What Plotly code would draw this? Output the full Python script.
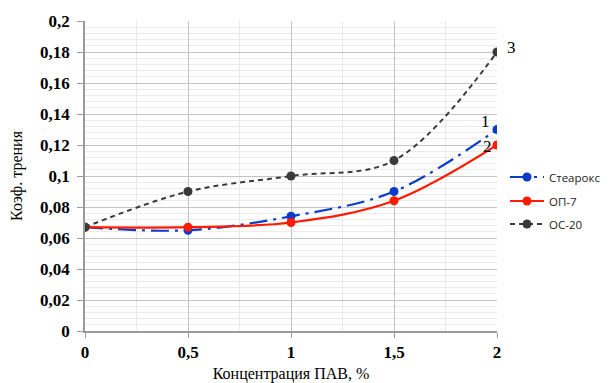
import plotly.graph_objects as go

conc = [0, 0.5, 1, 1.5, 2]
stearox = [0.067, 0.065, 0.074, 0.09, 0.13]
op7 = [0.067, 0.067, 0.07, 0.084, 0.12]
oc20 = [0.067, 0.09, 0.1, 0.11, 0.18]
names = ["Стеарокс", "ОП-7", "ОС-20"]
x_ticks = [0, 0.5, 1, 1.5, 2]
x_ticklabels = ["0", "0,5", "1", "1,5", "2"]
y_ticks = [0, 0.02, 0.04, 0.06, 0.08, 0.1, 0.12, 0.14, 0.16, 0.18, 0.2]
y_ticklabels = ["0", "0,02", "0,04", "0,06", "0,08", "0,1", "0,12", "0,14", "0,16", "0,18", "0,2"]
curve_labels = ["1", "2", "3"]

serif = "Liberation Serif, Times New Roman, serif"
legfont = dict(family="Open Sans", size=11.5, color="#222")

W, H = 604, 375  # page body has an 8px margin

fig = go.Figure()
fig.add_trace(go.Scatter(x=conc, y=stearox, name=names[0], mode="lines+markers", legend="legend",
                         line=dict(color="#0a3cc8", width=2.2, dash="18px,6px,3px,6px", shape="spline", smoothing=1),
                         marker=dict(color="#0a3cc8", size=9)))
fig.add_trace(go.Scatter(x=conc, y=op7, name=names[1], mode="lines+markers", legend="legend2",
                         line=dict(color="#ff1a00", width=2.2, shape="spline", smoothing=1),
                         marker=dict(color="#ff1a00", size=9)))
fig.add_trace(go.Scatter(x=conc, y=oc20, name=names[2], mode="lines+markers", legend="legend3",
                         line=dict(color="#3a3a3a", width=2, dash="5px,4px", shape="spline", smoothing=1),
                         marker=dict(color="#3a3a3a", size=9)))

fig.add_annotation(x=conc[-1], y=stearox[-1], text=curve_labels[0], showarrow=False,
                   xanchor="right", yanchor="bottom", xshift=-5, yshift=-3,
                   font=dict(family=serif, size=17, color="black"))
fig.add_annotation(x=conc[-1], y=op7[-1], text=curve_labels[1], showarrow=False,
                   xanchor="right", yanchor="middle", xshift=-3, yshift=-1,
                   font=dict(family=serif, size=17, color="black"))
fig.add_annotation(x=conc[-1], y=oc20[-1], text=curve_labels[2], showarrow=False,
                   xanchor="left", yanchor="middle", xshift=8, yshift=5,
                   font=dict(family=serif, size=17, color="black"))

def leg(ypix):
    return dict(xref="container", yref="container", x=497 / W, xanchor="left",
                y=1 - ypix / H, yanchor="middle", font=legfont, bgcolor="rgba(0,0,0,0)",
                itemwidth=34)

fig.update_layout(
    width=W, height=H,
    margin=dict(l=77, r=115, t=13, b=H - 323, autoexpand=False),
    paper_bgcolor="white", plot_bgcolor="white",
    separators=", ",
    showlegend=True,
    legend=leg(169), legend2=leg(193), legend3=leg(216),
)

fig.update_xaxes(range=[0, 2], tickvals=x_ticks, ticktext=x_ticklabels,
                 showgrid=True, gridcolor="#c4c4c4", gridwidth=1,
                 showline=True, linecolor="#9a9a9a", linewidth=1.5,
                 ticks="outside", ticklen=5, tickcolor="#9a9a9a",
                 tickfont=dict(family=serif, size=17, color="black", weight="bold"),
                 zeroline=False, automargin=False,
                 minor=dict(dtick=0.25, showgrid=True, gridcolor="#e8e8e8", gridwidth=1),
                 title=dict(text="Концентрация ПАВ, %", font=dict(family=serif, size=16, color="black"), standoff=8))
fig.update_yaxes(range=[0, 0.2], tickvals=y_ticks, ticktext=y_ticklabels,
                 showgrid=True, gridcolor="#c4c4c4", gridwidth=1,
                 showline=True, linecolor="#9a9a9a", linewidth=1.5,
                 ticks="outside", ticklen=6, tickcolor="#9a9a9a",
                 ticklabelstandoff=4,
                 tickfont=dict(family=serif, size=17, color="black", weight="bold"),
                 zeroline=False, automargin=False,
                 minor=dict(dtick=0.004, tick0=0, showgrid=True, gridcolor="#ececec", gridwidth=1),
                 title=dict(text="Коэф. трения", font=dict(family=serif, size=16, color="black"), standoff=18))

fig.write_html("out.html")
